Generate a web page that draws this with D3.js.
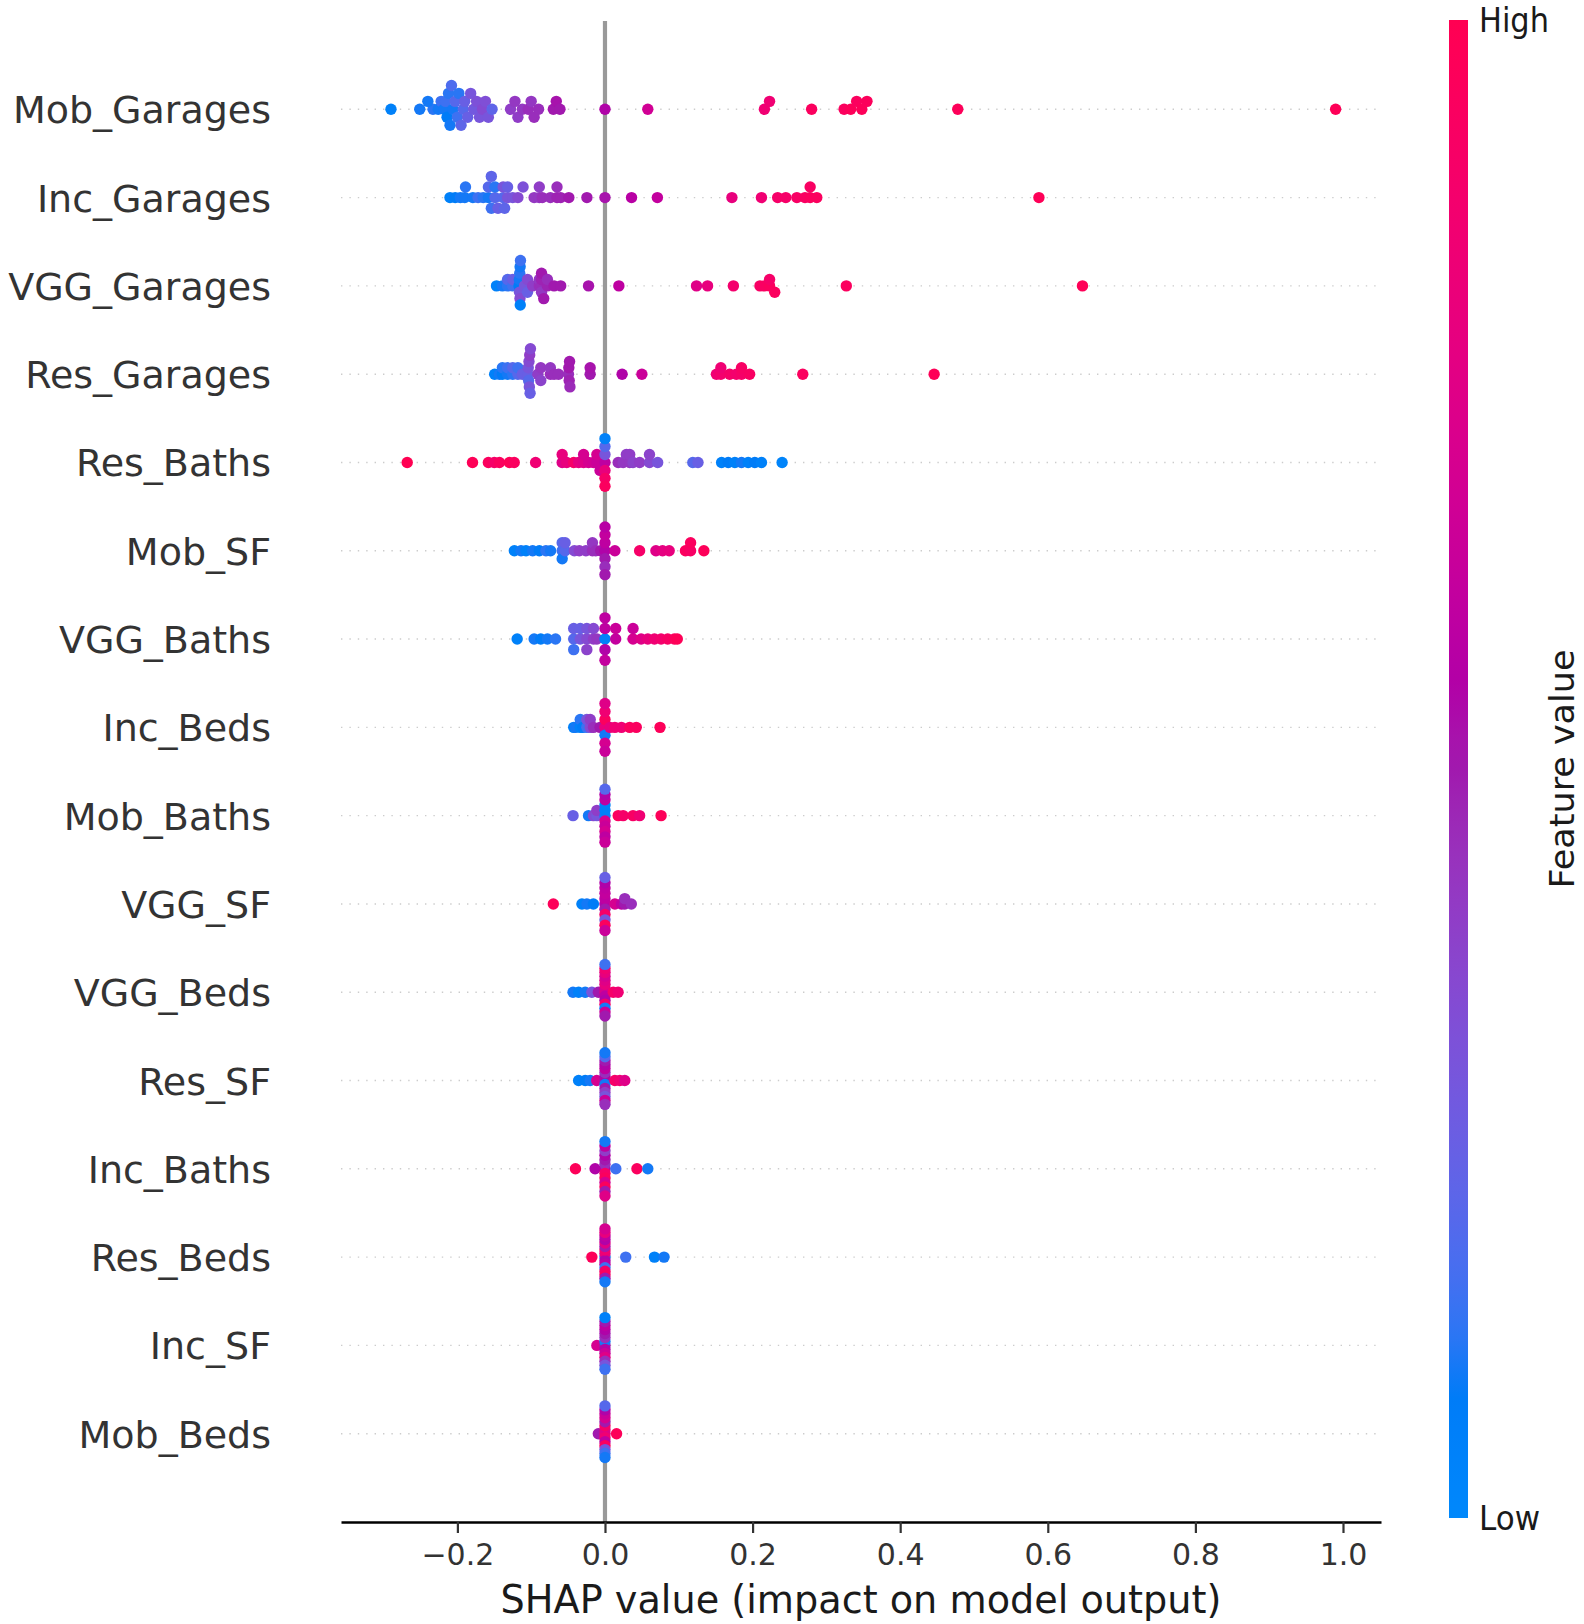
<!DOCTYPE html>
<html><head><meta charset="utf-8">
<script src="https://cdn.jsdelivr.net/npm/d3@7"></script>
<style>body{margin:0;background:#fff}svg{display:block}</style>
</head><body><svg id="chart" width="1584" height="1624"></svg>
<script>
// ---------- data (SHAP value, normalised feature value 0=low..1=high) ----------
const features = ["Mob_Garages","Inc_Garages","VGG_Garages","Res_Garages","Res_Baths","Mob_SF","VGG_Baths","Inc_Beds","Mob_Baths","VGG_SF","VGG_Beds","Res_SF","Inc_Baths","Res_Beds","Inc_SF","Mob_Beds"];

const mobGarages = [[-0.290,0.05],[-0.251,0.1],[-0.233,0.12],[-0.240,0.1],[-0.226,0.1],[-0.222,0.15],[-0.218,0.1],[-0.216,0.15],[-0.214,0.08],[-0.212,0.12],[-0.210,0.1],[-0.208,0.18],[-0.206,0.1],[-0.203,0.2],[-0.200,0.15],[-0.198,0.12],[-0.195,0.22],[-0.192,0.2],[-0.190,0.25],[-0.186,0.25],[-0.182,0.3],[-0.178,0.28],[-0.174,0.32],[-0.170,0.3],[-0.166,0.35],[-0.162,0.33],[-0.158,0.3],[-0.153,0.22],[-0.128,0.4],[-0.122,0.42],[-0.118,0.4],[-0.112,0.42],[-0.104,0.45],[-0.100,0.42],[-0.096,0.45],[-0.090,0.45],[-0.070,0.5],[-0.066,0.52],[-0.061,0.5],[0.0,0.55],[0.058,0.68],[0.216,0.85],[0.223,0.85],[0.280,0.95],[0.324,0.95],[0.333,0.97],[0.341,0.95],[0.348,0.97],[0.355,0.96],[0.478,0.97],[0.990,0.98]];

const incGarages = [[-0.210,0.05],[-0.203,0.08],[-0.196,0.1],[-0.190,0.1],[-0.189,0.12],[-0.179,0.1],[-0.172,0.15],[-0.165,0.12],[-0.158,0.1],[-0.158,0.2],[-0.154,0.15],[-0.154,0.22],[-0.149,0.2],[-0.149,0.12],[-0.145,0.25],[-0.138,0.2],[-0.138,0.3],[-0.136,0.22],[-0.132,0.3],[-0.132,0.25],[-0.125,0.3],[-0.118,0.35],[-0.111,0.32],[-0.096,0.42],[-0.089,0.42],[-0.089,0.4],[-0.085,0.45],[-0.074,0.45],[-0.065,0.48],[-0.065,0.45],[-0.060,0.48],[-0.049,0.5],[-0.0245,0.5],[0.0,0.52],[0.036,0.58],[0.071,0.62],[0.172,0.8],[0.212,0.85],[0.234,0.9],[0.245,0.9],[0.260,0.92],[0.271,0.93],[0.278,0.95],[0.278,0.93],[0.287,0.95],[0.588,0.98]];

const vggGarages = [[-0.147,0.05],[-0.139,0.1],[-0.132,0.12],[-0.132,0.2],[-0.125,0.15],[-0.125,0.25],[-0.1165,0.08],[-0.116,0.1],[-0.1158,0.3],[-0.1155,0.12],[-0.1152,0.35],[-0.115,0.1],[-0.1148,0.05],[-0.1145,0.15],[-0.109,0.3],[-0.105,0.35],[-0.105,0.25],[-0.098,0.4],[-0.089,0.45],[-0.089,0.42],[-0.086,0.45],[-0.086,0.48],[-0.086,0.42],[-0.086,0.5],[-0.083,0.5],[-0.078,0.48],[-0.078,0.45],[-0.069,0.5],[-0.060,0.5],[-0.0223,0.52],[0.0188,0.6],[0.124,0.75],[0.139,0.8],[0.174,0.88],[0.210,0.92],[0.216,0.93],[0.223,0.95],[0.223,0.9],[0.230,0.95],[0.327,0.95],[0.647,0.98]];

const resGarages = [[-0.1495,0.05],[-0.143,0.1],[-0.139,0.08],[-0.139,0.12],[-0.132,0.1],[-0.132,0.15],[-0.125,0.12],[-0.125,0.2],[-0.118,0.2],[-0.118,0.15],[-0.112,0.25],[-0.1045,0.25],[-0.104,0.3],[-0.1035,0.2],[-0.103,0.35],[-0.1025,0.3],[-0.102,0.4],[-0.1015,0.25],[-0.101,0.35],[-0.091,0.4],[-0.087,0.42],[-0.087,0.38],[-0.074,0.45],[-0.074,0.42],[-0.069,0.45],[-0.063,0.45],[-0.0495,0.45],[-0.049,0.5],[-0.0485,0.48],[-0.048,0.5],[-0.0475,0.46],[-0.0201,0.5],[-0.0201,0.52],[0.0232,0.55],[0.050,0.65],[0.151,0.85],[0.157,0.88],[0.157,0.85],[0.169,0.9],[0.178,0.88],[0.185,0.9],[0.185,0.92],[0.196,0.93],[0.268,0.95],[0.446,0.98]];

const resBaths = [[-0.268,1.0],[-0.1795,0.98],[-0.158,0.95],[-0.150,0.9],[-0.143,0.95],[-0.1295,0.98],[-0.123,0.95],[-0.094,0.85],[-0.058,0.75],[-0.058,0.8],[-0.0518,0.8],[-0.0424,0.9],[-0.0357,0.78],[-0.029,0.75],[-0.029,0.7],[-0.0223,0.7],[-0.0156,0.68],[-0.011,0.65],[-0.011,0.7],[-0.0067,0.65],[0,0.6],[0,0.3],[0,0.8],[0,0.2],[0,0.9],[0,0.05],[0,0.95],[0.0179,0.45],[0.0246,0.42],[0.029,0.4],[0.0335,0.42],[0.0335,0.4],[0.038,0.38],[0.047,0.4],[0.0603,0.35],[0.0603,0.38],[0.0714,0.3],[0.119,0.2],[0.126,0.25],[0.158,0.05],[0.167,0.08],[0.176,0.05],[0.185,0.1],[0.194,0.05],[0.203,0.08],[0.212,0.05],[0.240,0.03]];

const mobSF = [[-0.1228,0.05],[-0.1138,0.1],[-0.107,0.05],[-0.098,0.1],[-0.089,0.08],[-0.080,0.12],[-0.0737,0.1],[-0.058,0.15],[-0.058,0.2],[-0.058,0.1],[-0.054,0.2],[-0.054,0.25],[-0.0415,0.35],[-0.0348,0.4],[-0.0259,0.4],[-0.017,0.45],[-0.017,0.42],[-0.0125,0.45],[-0.0058,0.5],[0,0.55],[0,0.6],[0,0.5],[0,0.62],[0,0.45],[0,0.58],[0,0.5],[0.0134,0.65],[0.0469,0.9],[0.069,0.75],[0.078,0.78],[0.087,0.8],[0.109,0.95],[0.116,0.92],[0.116,0.95],[0.134,0.97]];

const vggBaths = [[-0.119,0.05],[-0.096,0.1],[-0.087,0.08],[-0.078,0.1],[-0.067,0.12],[-0.0424,0.2],[-0.0424,0.25],[-0.0424,0.15],[-0.0335,0.3],[-0.0335,0.25],[-0.0246,0.35],[-0.0246,0.3],[-0.0246,0.38],[-0.0156,0.4],[-0.0156,0.35],[-0.011,0.42],[0,0.05],[0,0.6],[0,0.55],[0,0.6],[0,0.62],[0.0145,0.62],[0.0145,0.65],[0.038,0.7],[0.038,0.65],[0.049,0.75],[0.058,0.8],[0.067,0.85],[0.076,0.88],[0.085,0.92],[0.094,0.95],[0.098,0.98]];

const incBeds = [[-0.0424,0.05],[-0.040,0.1],[-0.0335,0.05],[-0.0335,0.12],[-0.030,0.08],[-0.0246,0.15],[-0.0246,0.3],[-0.020,0.35],[-0.020,0.4],[-0.0156,0.45],[-0.0067,0.5],[0,0.8],[0,0.95],[0,0.1],[0,0.85],[0,0.7],[0,0.75],[0,0.65],[0.0067,0.8],[0.0134,0.85],[0.0223,0.85],[0.0335,0.95],[0.0424,0.95],[0.0746,0.97]];

const mobBaths = [[-0.0433,0.25],[-0.0223,0.1],[-0.0156,0.35],[-0.011,0.3],[-0.011,0.4],[0,0.1],[0,0.05],[0,0.7],[0,0.05],[0,0.65],[0,0.6],[0,0.7],[0,0.55],[0,0.6],[0,0.2],[0,0.65],[0.0179,0.95],[0.0246,0.9],[0.038,0.92],[0.0469,0.85],[0.076,0.97]];

const vggSF = [[-0.070,0.97],[-0.0312,0.05],[-0.0245,0.1],[-0.0157,0.08],[0,0.55],[0,0.6],[0,0.5],[0,0.62],[0,0.9],[0,0.6],[0,0.3],[0,0.55],[0,0.95],[0,0.25],[0,0.65],[0.0134,0.7],[0.0223,0.6],[0.0268,0.5],[0.0268,0.45],[0.0357,0.45]];

const vggBeds = [[-0.0433,0.1],[-0.0357,0.05],[-0.0268,0.1],[-0.0178,0.3],[-0.009,0.5],[0,0.75],[0,0.7],[0,0.6],[0,0.8],[0,0.55],[0,0.75],[0,0.9],[0,0.7],[0,0.1],[0,0.8],[0,0.65],[0,0.85],[0,0.5],[0,0.15],[0.0112,0.9],[0.0178,0.85]];

const resSF = [[-0.0357,0.05],[-0.0268,0.08],[-0.0201,0.1],[-0.0112,0.7],[0,0.5],[0,0.55],[0,0.1],[0,0.45],[0,0.5],[0,0.6],[0,0.4],[0,0.55],[0,0.3],[0,0.5],[0,0.65],[0,0.2],[0,0.45],[0,0.1],[0.0134,0.9],[0.0201,0.85],[0.0268,0.75]];

const incBaths = [[-0.040,0.97],[-0.0134,0.55],[0,0.6],[0,0.45],[0,0.9],[0,0.5],[0,0.95],[0,0.55],[0,0.7],[0,0.4],[0,0.95],[0,0.6],[0,0.5],[0,0.1],[0,0.75],[0.0147,0.15],[0.0433,0.95],[0.058,0.1]];

const resBeds = [[-0.0178,0.97],[0,0.1],[0,0.8],[0,0.55],[0,0.85],[0,0.6],[0,0.5],[0,0.15],[0,0.75],[0,0.9],[0,0.55],[0,0.95],[0,0.6],[0,0.5],[0,0.8],[0,0.1],[0,0.7],[0.0281,0.15],[0.067,0.05],[0.080,0.1]];

const incSF = [[-0.011,0.7],[0,0.5],[0,0.1],[0,0.55],[0,0.45],[0,0.65],[0,0.5],[0,0.75],[0,0.55],[0,0.45],[0,0.6],[0,0.3],[0,0.5],[0,0.15],[0,0.05]];

const mobBeds = [[-0.009,0.5],[0.0157,0.97],[0,0.8],[0,0.75],[0,0.85],[0,0.9],[0,0.6],[0,0.5],[0,0.95],[0,0.7],[0,0.3],[0,0.65],[0,0.15],[0,0.55],[0,0.1],[0,0.2]];

const seriesByFeature = [mobGarages, incGarages, vggGarages, resGarages, resBaths, mobSF, vggBaths, incBeds, mobBaths, vggSF, vggBeds, resSF, incBaths, resBeds, incSF, mobBeds];

const xTickValues = [-0.2, 0, 0.2, 0.4, 0.6, 0.8, 1.0];
const xTickLabels = ["\u22120.2", "0.0", "0.2", "0.4", "0.6", "0.8", "1.0"];
const colorbarTicks = [0, 1];
const colorbarLabels = ["Low", "High"];
const xTitle = "SHAP value (impact on model output)";
const colorbarTitle = "Feature value";

// ---------- layout ----------
const FONT = "'DejaVu Sans', sans-serif";
const svg = d3.select("#chart");
const n = features.length;
const x = d3.scaleLinear().domain([-0.3577, 1.0515]).range([341, 1381]);
const y = d3.scaleLinear().domain([-1, n]).range([1522, 21]);
const rowHeight = 0.4, nbins = 100, dotR = 5.7;

// SHAP red_blue colormap (LCh interpolation)
function shapColor(t) {
  t = Math.max(0, Math.min(1, t));
  const l = t < 0.5 ? 54 + (40 - 54) * (t / 0.5) : 40 + (54 - 40) * ((t - 0.5) / 0.5);
  const c = 70 + 20 * t;
  const hRad = 4.6588 + (0.35470565 + 2 * Math.PI - 4.6588) * t;
  return d3.hcl(hRad * 180 / Math.PI, c, l).formatHex();
}

// SHAP beeswarm vertical layout
function beeswarm(vals) {
  const N = vals.length;
  const mn = d3.min(vals), mx = d3.max(vals);
  const quant = vals.map(v => Math.round(nbins * (v - mn) / (mx - mn + 1e-8)));
  const inds = d3.range(N).sort((a, b) => (quant[a] - quant[b]) || (a - b));
  const ys = new Array(N).fill(0);
  let layer = 0, last = -1;
  for (const i of inds) {
    if (quant[i] !== last) layer = 0;
    ys[i] = Math.ceil(layer / 2) * ((layer % 2) * 2 - 1);
    layer++; last = quant[i];
  }
  const m = d3.max(ys, v => v + 1);
  return ys.map(v => v * 0.9 * (rowHeight / m));
}

// zero line
svg.append("line")
  .attr("x1", x(0)).attr("x2", x(0)).attr("y1", y(n)).attr("y2", y(-1))
  .attr("stroke", "#999999").attr("stroke-width", 4.2);

// row dotted lines
const rows = svg.append("g");
features.forEach((f, i) => {
  const pos = n - 1 - i;
  rows.append("line")
    .attr("x1", x.range()[0]).attr("x2", x.range()[1])
    .attr("y1", y(pos)).attr("y2", y(pos))
    .attr("stroke", "#cccccc").attr("stroke-width", 1.4)
    .attr("stroke-dasharray", "1.4 7");
});

// dots
const dots = svg.append("g");
seriesByFeature.forEach((series, i) => {
  const pos = n - 1 - i;
  const vals = series.map(d => d[0]);
  const ys = beeswarm(vals);
  dots.selectAll(null).data(series).enter().append("circle")
    .attr("cx", d => x(d[0]))
    .attr("cy", (d, k) => y(pos + ys[k]))
    .attr("r", dotR)
    .attr("fill", d => shapColor(d[1]));
});

// y labels
features.forEach((f, i) => {
  const pos = n - 1 - i;
  svg.append("text")
    .attr("x", 271).attr("y", y(pos) + 14)
    .attr("text-anchor", "end")
    .attr("font-family", FONT).attr("font-size", 38)
    .attr("fill", "#333333").text(f);
});

// x axis
const xAxis = d3.axisBottom(x)
  .tickValues(xTickValues)
  .tickFormat((d, i) => xTickLabels[i])
  .tickSize(11).tickSizeOuter(0).tickPadding(10.7);
const gx = svg.append("g").attr("transform", `translate(0,${y(-1)})`).call(xAxis);
gx.select(".domain").attr("stroke", "#000").attr("stroke-width", 2.3);
gx.selectAll(".tick line").attr("stroke", "#333333").attr("stroke-width", 2.2);
gx.selectAll(".tick text").attr("font-family", FONT).attr("font-size", 30).attr("fill", "#333333");

svg.append("text")
  .attr("x", (x.range()[0] + x.range()[1]) / 2).attr("y", 1613)
  .attr("text-anchor", "middle")
  .attr("font-family", FONT).attr("font-size", 38.2)
  .attr("fill", "#1a1a1a").text(xTitle);

// colorbar
const cb = d3.scaleLinear().domain([0, 1]).range([1518, 20]);
const defs = svg.append("defs");
const grad = defs.append("linearGradient").attr("id", "cbgrad")
  .attr("x1", 0).attr("y1", 1).attr("x2", 0).attr("y2", 0);
d3.range(0, 1.0001, 0.02).forEach(t => {
  grad.append("stop").attr("offset", t).attr("stop-color", shapColor(t));
});
svg.append("rect")
  .attr("x", 1449).attr("width", 19)
  .attr("y", cb(1)).attr("height", cb(0) - cb(1))
  .attr("fill", "url(#cbgrad)");

const cbLabelLen = [61, 70];
colorbarTicks.forEach((t, i) => {
  svg.append("text")
    .attr("x", 1479).attr("y", cb(t) + 12)
    .attr("font-family", FONT).attr("font-size", 34)
    .attr("textLength", cbLabelLen[i]).attr("lengthAdjust", "spacingAndGlyphs")
    .attr("fill", "#1a1a1a").text(colorbarLabels[i]);
});

svg.append("text")
  .attr("transform", `translate(1574,${(cb(0) + cb(1)) / 2}) rotate(-90)`)
  .attr("text-anchor", "middle")
  .attr("font-family", FONT).attr("font-size", 34)
  .attr("textLength", 239).attr("lengthAdjust", "spacingAndGlyphs")
  .attr("fill", "#1a1a1a").text(colorbarTitle);
</script></body></html>
